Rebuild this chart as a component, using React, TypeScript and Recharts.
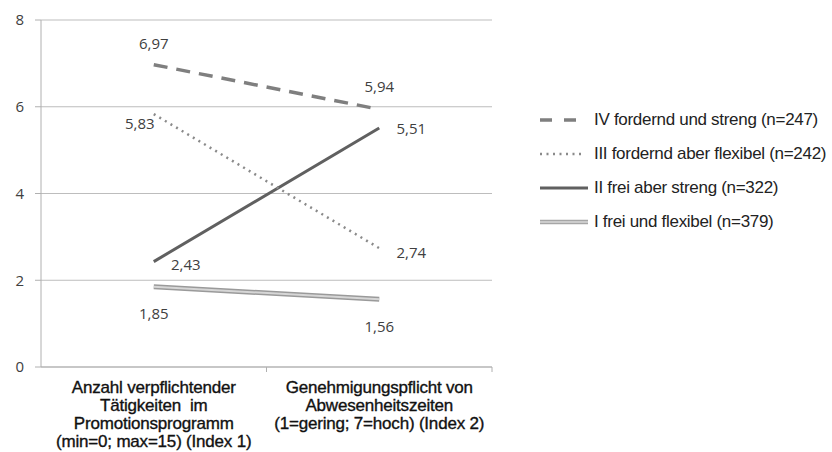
import React from "react";
import { LineChart, Line, XAxis, YAxis, CartesianGrid, LabelList } from "recharts";

const categories = [
  ["Anzahl verpflichtender", "Tätigkeiten  im", "Promotionsprogramm", "(min=0; max=15) (Index 1)"],
  ["Genehmigungspflicht von", "Abwesenheitszeiten", "(1=gering; 7=hoch) (Index 2)"],
];
const seriesIV = [6.97, 5.94];
const seriesIII = [5.83, 2.74];
const seriesII = [2.43, 5.51];
const seriesI = [1.85, 1.56];
const yTicks = [0, 2, 4, 6, 8];
const legendLabels = [
  "IV fordernd und streng (n=247)",
  "III fordernd aber flexibel (n=242)",
  "II frei aber streng (n=322)",
  "I frei und flexibel (n=379)",
];

const data = categories.map((c, i) => ({
  name: String(i),
  iv: seriesIV[i],
  iii: seriesIII[i],
  ii: seriesII[i],
  i: seriesI[i],
}));

const labelFont = "'Open Sans', 'Noto Sans', sans-serif";
const axisFont = "'Liberation Sans', Arial, sans-serif";
const HALF_BAND = 112.75;

// label offsets relative to the point, per series / index
const labelOffsets: Record<string, [number, number][]> = {
  iv: [[0, -22], [0, -23]],
  iii: [[-14, 9], [32, 4]],
  ii: [[32, 2], [32, 0]],
  i: [[0, 26], [0, 27]],
};

const makeLabel = (key: string) => (props: any) => {
  const { x, y, value, index } = props;
  const [dx, dy] = labelOffsets[key][index];
  return (
    <text
      x={x + dx}
      y={y + dy}
      textAnchor="middle"
      dominantBaseline="central"
      fill="#404040"
      fontSize={15}
      fontFamily={labelFont}
    >
      {Number(value).toFixed(2).replace(".", ",")}
    </text>
  );
};

const CategoryTick = (props: any) => {
  const { x, y, payload } = props;
  const lines = categories[Number(payload.value)];
  return (
    <g>
      <line x1={x + HALF_BAND} x2={x + HALF_BAND} y1={y - 8} y2={y - 3} stroke="#b0b0b0" />
      <text
        x={x}
        y={y + 18}
        textAnchor="middle"
        fill="#111"
        stroke="#111"
        strokeWidth={0.35}
        fontSize={17}
        fontFamily={axisFont}
        letterSpacing={-0.2}
      >
        {lines.map((l, i) => (
          <tspan key={i} x={x} dy={i === 0 ? 0 : 18} style={{ whiteSpace: "pre" }}>
            {l}
          </tspan>
        ))}
      </text>
    </g>
  );
};

const legendStyles = [
  { stroke: "#7f7f7f", width: 3.5, dash: "12 12", len: 38 },
  { stroke: "#8a8a8a", width: 2.5, dash: "2 4.5", len: 45 },
  { stroke: "#606060", width: 3, dash: undefined, len: 48 },
  { stroke: "#a6a6a6", width: 4.5, dash: undefined, len: 48 },
];

const CustomLegend = () => (
  <div
    style={{
      position: "absolute",
      left: 538,
      top: 103,
      fontFamily: axisFont,
      fontSize: 17,
      color: "#222",
      letterSpacing: -0.3,
    }}
  >
    {legendLabels.map((lab, i) => (
      <div key={lab} style={{ display: "flex", alignItems: "center", height: 34 }}>
        <svg width={54} height={10} style={{ marginRight: 2 }}>
          <line
            x1={2}
            x2={2 + legendStyles[i].len}
            y1={5}
            y2={5}
            stroke={legendStyles[i].stroke}
            strokeWidth={legendStyles[i].width}
            strokeDasharray={legendStyles[i].dash}
          />
          {i === 3 && <line x1={2} x2={50} y1={5} y2={5} stroke="#d9d9d9" strokeWidth={1.5} />}
        </svg>
        <span style={{ whiteSpace: "nowrap" }}>{lab}</span>
      </div>
    ))}
  </div>
);

export default function App() {
  return (
    <div style={{ position: "absolute", left: 0, top: 0, width: 832, height: 452, background: "#fff" }}>
      <LineChart width={832} height={452} data={data} margin={{ top: 20, right: 340, bottom: 0, left: 0 }}>
        <CartesianGrid horizontal vertical={false} stroke="#bdbdbd" />
        <XAxis
          dataKey="name"
          height={85}
          padding={{ left: HALF_BAND, right: HALF_BAND }}
          axisLine={{ stroke: "#b0b0b0" }}
          tickLine={false}
          tick={<CategoryTick />}
          interval={0}
        />
        <YAxis
          width={41}
          domain={[0, 8]}
          ticks={yTicks}
          axisLine={{ stroke: "#b0b0b0" }}
          tickLine={{ stroke: "#b0b0b0" }}
          tickSize={6}
          tickMargin={11}
          tick={{ fill: "#404040", fontSize: 15, fontFamily: labelFont }}
          interval={0}
        />
        <Line dataKey="i" stroke="#9a9a9a" strokeWidth={5} dot={false} isAnimationActive={false} />
        <Line dataKey="i" stroke="#d6d6d6" strokeWidth={2} dot={false} isAnimationActive={false}>
          <LabelList dataKey="i" content={makeLabel("i")} />
        </Line>
        <Line dataKey="ii" stroke="#606060" strokeWidth={3} dot={false} isAnimationActive={false}>
          <LabelList dataKey="ii" content={makeLabel("ii")} />
        </Line>
        <Line
          dataKey="iii"
          stroke="#8a8a8a"
          strokeWidth={2.5}
          strokeDasharray="2 4.5"
          dot={false}
          isAnimationActive={false}
        >
          <LabelList dataKey="iii" content={makeLabel("iii")} />
        </Line>
        <Line
          dataKey="iv"
          stroke="#7f7f7f"
          strokeWidth={3.5}
          strokeDasharray="14 9"
          dot={false}
          isAnimationActive={false}
        >
          <LabelList dataKey="iv" content={makeLabel("iv")} />
        </Line>
      </LineChart>
      <CustomLegend />
    </div>
  );
}
